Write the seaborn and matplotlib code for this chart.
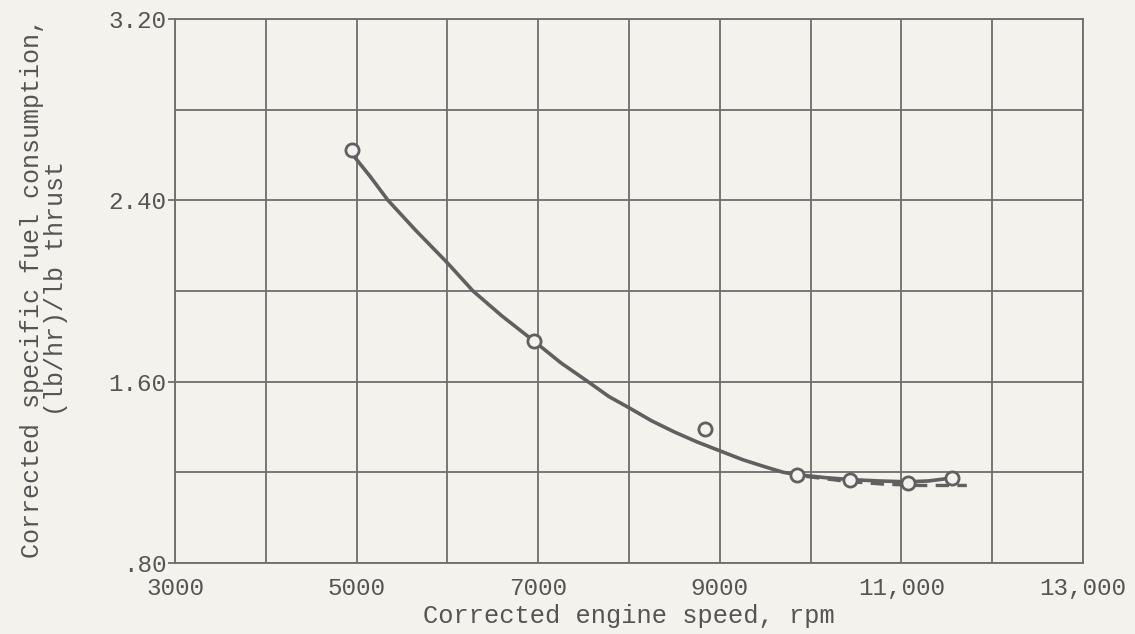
import numpy as np
import pandas as pd
import matplotlib
matplotlib.use('Agg')
import matplotlib.pyplot as plt
import seaborn as sns
from matplotlib.ticker import MultipleLocator, FixedLocator, FixedFormatter

sns.set_theme(style='white')
plt.rcParams['font.family'] = ['Liberation Mono', 'DejaVu Sans Mono']

# test points (open circles)
speed_pts = [4950, 6950, 8840, 9850, 10430, 11070, 11560]
sfc_pts = [2.62, 1.78, 1.39, 1.19, 1.166, 1.153, 1.175]

# faired solid curve
speed_curve = [4960, 5150, 5346, 5650, 6000, 6282, 6600, 6950, 7250, 7548, 7780,
               8000, 8250, 8500, 8750, 9000, 9250, 9500, 9700, 9850, 10150,
               10434, 10750, 11073, 11300, 11557]
sfc_curve = [2.60, 2.505, 2.40, 2.268, 2.124, 2.00, 1.89, 1.78, 1.683, 1.60, 1.534,
             1.485, 1.427, 1.378, 1.334, 1.295, 1.256, 1.224, 1.20, 1.19, 1.177,
             1.168, 1.162, 1.158, 1.162, 1.175]

# dashed curve
speed_dash = [9950, 10400, 10800, 11200, 11720]
sfc_dash = [1.182, 1.160, 1.148, 1.142, 1.142]

x_ticks = [3000, 5000, 7000, 9000, 11000, 13000]
x_labels = ['3000', '5000', '7000', '9000', '11,000', '13,000']
y_ticks = [0.80, 1.60, 2.40, 3.20]
y_labels = ['.80', '1.60', '2.40', '3.20']

bg = '#f4f2ec'
ink = '#606060'

fig = plt.figure(figsize=(11.35, 6.34), dpi=100, facecolor=bg)
ax = fig.add_axes([0.1542, 0.112, 0.80, 0.858])
ax.set_facecolor(bg)

sns.lineplot(x=speed_curve, y=sfc_curve, ax=ax, color=ink, linewidth=2.6,
             sort=False, estimator=None)
sns.lineplot(x=speed_dash, y=sfc_dash, ax=ax, color=ink, linewidth=2.4,
             sort=False, estimator=None, linestyle=(0, (4, 2.5)))
sns.scatterplot(x=speed_pts, y=sfc_pts, ax=ax, s=90, marker='o',
                facecolor=bg, edgecolor=ink, linewidth=2.0, zorder=5)

ax.set_xlim(3000, 13000)
ax.set_ylim(0.80, 3.20)
ax.xaxis.set_major_locator(FixedLocator(x_ticks))
ax.xaxis.set_major_formatter(FixedFormatter(x_labels))
ax.xaxis.set_minor_locator(MultipleLocator(1000))
ax.yaxis.set_major_locator(FixedLocator(y_ticks))
ax.yaxis.set_major_formatter(FixedFormatter(y_labels))
ax.yaxis.set_minor_locator(MultipleLocator(0.40))

ax.grid(True, which='both', color='#6e6e6e', linewidth=1.3)
for s in ax.spines.values():
    s.set_color('#6e6e6e')
    s.set_linewidth(1.3)

ax.tick_params(axis='x', which='both', length=0, pad=10, labelsize=17.5, labelcolor='#555555')
ax.tick_params(axis='y', which='major', length=5, width=1.3, color='#6e6e6e',
               pad=1, labelsize=17.5, labelcolor='#555555', left=True)
ax.tick_params(axis='y', which='minor', length=0)

ax.set_xlabel('Corrected engine speed, rpm', fontsize=18.3, color='#555555', labelpad=3)
ax.set_ylabel('Corrected specific fuel consumption,\n(lb/hr)/lb thrust',
              fontsize=18, color='#555555', linespacing=1.0)
ax.yaxis.set_label_coords(-0.118, 0.505)

fig.savefig('out.png', dpi=100, facecolor=bg)
plt.close(fig)
